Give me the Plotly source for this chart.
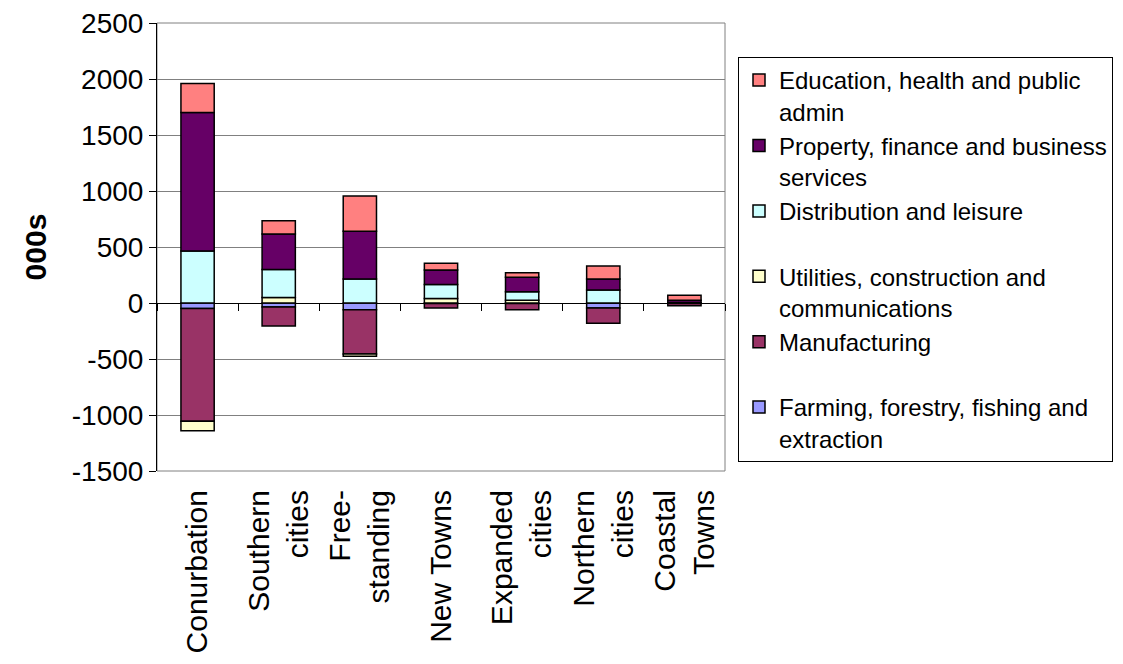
import plotly.graph_objects as go

categories = ["Conurbation", "Southern<br>cities", "Free-<br>standing", "New Towns",
              "Expanded<br>cities", "Northern<br>cities", "Coastal<br>Towns"]

# employment change by sector (000s)
farming = [-50, -35, -60, -5, -5, -45, -5]
manufacturing = [-1005, -170, -395, -40, -55, -135, -20]
utilities = [-85, 50, -20, 40, 25, 0, 0]
distribution = [465, 250, 215, 125, 75, 115, 5]
property_finance = [1235, 315, 425, 130, 130, 100, 20]
education = [260, 120, 315, 60, 40, 115, 45]

y_ticks = [-1500, -1000, -500, 0, 500, 1000, 1500, 2000, 2500]

series = [
    ("Farming, forestry, fishing and<br>extraction", farming, "#9999FF"),
    ("Manufacturing<br>\u00a0", manufacturing, "#993366"),
    ("Utilities, construction and<br>communications", utilities, "#FFFFCC"),
    ("Distribution and leisure<br>\u00a0", distribution, "#CCFFFF"),
    ("Property, finance and business<br>services", property_finance, "#660066"),
    ("Education, health and public<br>admin", education, "#FF8080"),
]

FONT = "Liberation Sans, Arial, sans-serif"
W, H = 1107, 648   # page body keeps an 8px margin around the figure

fig = go.Figure()
for name, vals, col in series:
    fig.add_trace(go.Bar(
        x=categories, y=vals, name=name,
        marker=dict(color=col, line=dict(color="black", width=1.5)),
    ))

n = len(categories)
y_min, y_max = y_ticks[0], y_ticks[-1]

# empty helper trace so the zero-line tick axis gets drawn
fig.add_trace(go.Scatter(x=[], y=[], xaxis="x2", showlegend=False, hoverinfo="skip"))

fig.update_layout(
    width=W, height=H,
    barmode="relative",
    bargap=0.59,
    margin=dict(l=149, r=390, t=15, b=185),
    plot_bgcolor="white",
    paper_bgcolor="white",
    font=dict(family=FONT, size=28, color="black"),
    showlegend=True,
    legend=dict(
        traceorder="reversed",
        xref="container", yref="container",
        x=730 / W, y=1 - 49 / H, xanchor="left", yanchor="top",
        bordercolor="black", borderwidth=1, bgcolor="white",
        font=dict(size=24, family=FONT),
        valign="top",
        tracegroupgap=0,
        maxheight=600,
    ),
    xaxis=dict(
        type="category",
        tickangle=-90,
        tickfont=dict(size=30),
        ticklabelstandoff=12,
        showgrid=False,
        showline=False,
        ticks="",
        range=[-0.5, n - 0.5],
        automargin=False,
    ),
    # tick marks along the zero line, between categories
    xaxis2=dict(
        overlaying="x",
        anchor="free",
        position=(0 - y_min) / (y_max - y_min),
        range=[-0.5, n - 0.5],
        tickmode="array",
        tickvals=[i - 0.5 for i in range(n + 1)],
        ticks="outside", ticklen=7, tickcolor="black", tickwidth=1,
        showticklabels=False, showgrid=False, showline=False, zeroline=False,
    ),
    yaxis=dict(
        range=[y_min, y_max],
        tickmode="array",
        tickvals=y_ticks,
        ticktext=[str(v) for v in y_ticks],
        ticks="outside", ticklen=7, tickcolor="black",
        tickfont=dict(size=28),
        ticklabeloverflow="allow",
        showline=True, linecolor="black", linewidth=1,
        showgrid=True, gridcolor="#808080", gridwidth=1,
        zeroline=True, zerolinecolor="black", zerolinewidth=1,
        title=dict(text="<b>000s</b>", font=dict(size=30), standoff=16),
        automargin=False,
    ),
    shapes=[dict(type="rect", xref="paper", yref="paper", x0=0, x1=1, y0=0, y1=1,
                 line=dict(color="#808080", width=1), layer="below")],
)

fig.write_html("out.html")
